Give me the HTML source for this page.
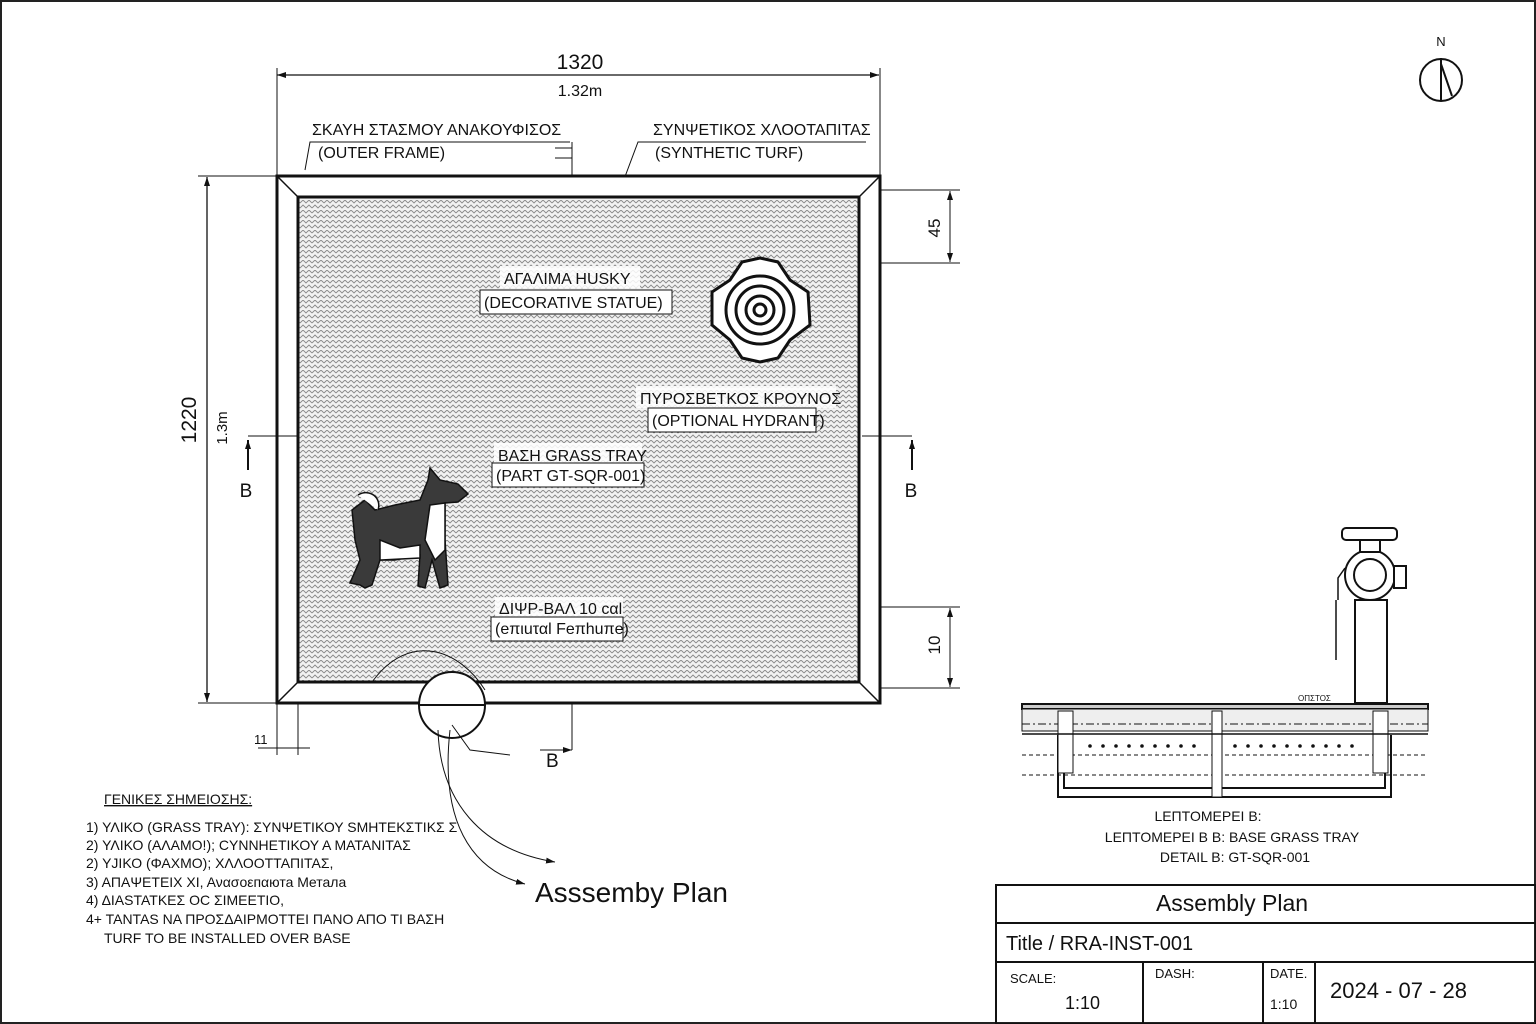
<!DOCTYPE html>
<html><head><meta charset="utf-8"><style>
html,body{margin:0;padding:0;background:#fff;}
svg{display:block;}
text{font-family:"Liberation Sans","DejaVu Sans",sans-serif;fill:#111;}
</style></head><body>
<svg width="1536" height="1024" viewBox="0 0 1536 1024" xmlns="http://www.w3.org/2000/svg">
<defs>
<pattern id="turf" width="12" height="10" patternUnits="userSpaceOnUse">
<rect width="12" height="10" fill="#f2f2f2"/>
<path d="M0 3 L3 0 L6 3 L9 0 L12 3 M0 8 L3 5 L6 8 L9 5 L12 8" stroke="#888" stroke-width="0.9" fill="none"/>
</pattern>
<marker id="ar" markerUnits="userSpaceOnUse" markerWidth="9" markerHeight="6" refX="9" refY="3" orient="auto-start-reverse"><path d="M0 0 L9 3 L0 6 Z" fill="#111"/></marker>
</defs>
<rect x="1" y="1" width="1534" height="1022" fill="none" stroke="#222" stroke-width="2"/>
<text x="1441" y="46" font-size="13" text-anchor="middle">N</text>
<circle cx="1441" cy="80" r="21" fill="none" stroke="#111" stroke-width="2"/>
<path d="M1441 58 L1441 100 M1441 64 L1452 96" stroke="#111" stroke-width="2" fill="none"/>
<line x1="277" y1="75" x2="879" y2="75" stroke="#111" stroke-width="1.3" marker-end="url(#ar)" marker-start="url(#ar)"/>
<line x1="277" y1="68" x2="277" y2="175" stroke="#111"/>
<line x1="880" y1="68" x2="880" y2="175" stroke="#111"/>
<text x="580" y="69" font-size="21" text-anchor="middle">1320</text>
<text x="580" y="96" font-size="16" text-anchor="middle">1.32m</text>
<text x="312" y="135" font-size="16">ΣΚΑΥΗ ΣΤΑΣΜΟΥ ΑΝΑΚΟΥΦΙΣΟΣ</text>
<text x="318" y="158" font-size="16">(OUTER FRAME)</text>
<path d="M570 142 L310 142 L305 170" stroke="#111" fill="none"/>
<path d="M572 142 L572 195 M555 148 L572 148 M555 158 L572 158" stroke="#111" fill="none"/>
<text x="653" y="135" font-size="16">ΣΥΝΨΕΤΙΚΟΣ ΧΛΟΟΤΑΠΙΤΑΣ</text>
<text x="655" y="158" font-size="16">(SYNTHETIC TURF)</text>
<path d="M866 142 L638 142 L620 190" stroke="#111" fill="none"/>
<rect x="277" y="176" width="603" height="527" fill="#fff" stroke="#111" stroke-width="3"/>
<rect x="298" y="197" width="561" height="485" fill="url(#turf)" stroke="#111" stroke-width="3"/>
<path d="M277 176 L298 197 M880 176 L859 197 M277 703 L298 682 M880 703 L859 682" stroke="#111" stroke-width="1.5"/>
<line x1="207" y1="177" x2="207" y2="702" stroke="#111" stroke-width="1.3" marker-end="url(#ar)" marker-start="url(#ar)"/>
<line x1="198" y1="176" x2="277" y2="176" stroke="#111"/>
<line x1="198" y1="703" x2="277" y2="703" stroke="#111"/>
<text transform="translate(196,420) rotate(-90)" font-size="21" text-anchor="middle">1220</text>
<text transform="translate(227,428) rotate(-90)" font-size="15" text-anchor="middle">1.3m</text>
<line x1="248" y1="436" x2="298" y2="436" stroke="#111"/>
<line x1="248" y1="440" x2="248" y2="470" stroke="#111" stroke-width="2" marker-start="url(#ar)"/>
<text x="246" y="497" font-size="19" text-anchor="middle">B</text>
<line x1="880" y1="190" x2="960" y2="190" stroke="#111"/>
<line x1="880" y1="263" x2="960" y2="263" stroke="#111"/>
<line x1="950" y1="191" x2="950" y2="262" stroke="#111" marker-end="url(#ar)" marker-start="url(#ar)"/>
<text transform="translate(940,228) rotate(-90)" font-size="17" text-anchor="middle">45</text>
<line x1="880" y1="607" x2="960" y2="607" stroke="#111"/>
<line x1="880" y1="688" x2="960" y2="688" stroke="#111"/>
<line x1="950" y1="608" x2="950" y2="687" stroke="#111" marker-end="url(#ar)" marker-start="url(#ar)"/>
<text transform="translate(940,645) rotate(-90)" font-size="17" text-anchor="middle">10</text>
<line x1="862" y1="436" x2="912" y2="436" stroke="#111"/>
<line x1="912" y1="440" x2="912" y2="470" stroke="#111" stroke-width="2" marker-start="url(#ar)"/>
<text x="911" y="497" font-size="19" text-anchor="middle">B</text>
<line x1="572" y1="703" x2="572" y2="750" stroke="#111"/>
<line x1="540" y1="750" x2="572" y2="750" stroke="#111" marker-end="url(#ar)"/>
<text x="546" y="767" font-size="19">B</text>
<line x1="277" y1="703" x2="277" y2="755" stroke="#111"/>
<line x1="298" y1="703" x2="298" y2="755" stroke="#111"/>
<line x1="258" y1="748" x2="310" y2="748" stroke="#111"/>
<text x="254" y="744" font-size="13">11</text>
<g font-size="16">
<rect x="500" y="266" width="140" height="22" fill="#fff" opacity=".85"/>
<text x="504" y="284">ΑΓΑΛΙΜΑ HUSKY</text>
<rect x="480" y="290" width="192" height="24" fill="#fff" stroke="#111"/>
<text x="484" y="308">(DECORATIVE STATUE)</text>
<rect x="636" y="386" width="200" height="22" fill="#fff" opacity=".85"/>
<text x="640" y="404">ΠΥΡΟΣΒΕΤΚΟΣ ΚΡΟΥΝΟΣ</text>
<rect x="648" y="408" width="168" height="24" fill="#fff" stroke="#111"/>
<text x="652" y="426">(OPTIONAL HYDRANT)</text>
<rect x="494" y="443" width="148" height="22" fill="#fff" opacity=".85"/>
<text x="498" y="461">ΒΑΣΗ GRASS TRAY</text>
<rect x="492" y="463" width="152" height="24" fill="#fff" stroke="#111"/>
<text x="496" y="481">(PART GT-SQR-001)</text>
<rect x="495" y="597" width="128" height="22" fill="#fff" opacity=".85"/>
<text x="499" y="614">ΔΙΨΡ-ΒΑΛ 10 cαl</text>
<rect x="491" y="617" width="132" height="24" fill="#fff" stroke="#111"/>
<text x="495" y="634">(eπιuταl Feπhuπe)</text>
</g>
<g fill="#fff" stroke="#111" stroke-width="3">
<path d="M760 258 L778 262 L790 280 L808 292 L810 325 L790 340 L778 358 L760 362 L742 358 L730 340 L712 325 L712 292 L730 280 L742 262 Z"/>
<circle cx="760" cy="310" r="34"/>
<circle cx="760" cy="310" r="24"/>
<circle cx="760" cy="310" r="14"/>
<circle cx="760" cy="310" r="6"/>
</g>
<g>
<path d="M430 468 L440 480 L458 484 L468 494 L458 502 L445 503 L445 540 L448 585 L440 588 L432 560 L425 588 L418 586 L420 555 L395 560 L380 560 L372 585 L365 588 L360 585 L350 583 L360 560 L355 540 L352 510 L365 500 L375 510 L395 505 L420 500 L428 480 Z" fill="#3a3a3a" stroke="#111" stroke-width="1.5"/>
<path d="M430 505 L445 503 L445 550 L435 560 L425 540 Z M380 540 L400 548 L420 545 L420 558 L380 560 Z M358 495 C370 488 382 498 378 510" fill="#fff" stroke="#111" stroke-width="1.5"/>
</g>
<circle cx="452" cy="705" r="33" fill="#fff" stroke="#111" stroke-width="2"/>
<line x1="420" y1="705" x2="485" y2="705" stroke="#111" stroke-width="2"/>
<path d="M372 682 C410 630 460 650 485 690" stroke="#111" fill="none"/>
<path d="M452 725 L470 750 L510 755" stroke="#111" fill="none"/>
<path d="M438 730 C440 800 480 850 555 862" stroke="#111" fill="none" marker-end="url(#ar)"/>
<path d="M450 730 C440 820 470 870 525 884" stroke="#111" fill="none" marker-end="url(#ar)"/>
<text x="535" y="902" font-size="28" fill="#222">Asssemby Plan</text>
<text x="104" y="804" font-size="14" text-decoration="underline">ΓΕΝΙΚΕΣ ΣΗΜΕΙΟΣΗΣ:</text>
<g font-size="14">
<text x="86" y="832">1) ΥΛΙΚΟ (GRASS TRAY): ΣΥΝΨΕΤΙΚΟΥ SΜΗΤΕΚΣΤΙΚΣ Σ</text>
<text x="86" y="850">2) ΥΛΙΚΟ (ΑΛΑΜΟ!); CΥΝΝΗΕΤΙΚΟΥ Α ΜΑΤΑΝΙΤΑΣ</text>
<text x="86" y="868">2) ΥJIΚΟ (ΦΑΧΜΟ); ΧΛΛΟΟΤΤΑΠΙΤΑΣ,</text>
<text x="86" y="887">3) ΑΠΑΨΕΤΕΙΧ ΧΙ, Ανασοεпαюта Μетала</text>
<text x="86" y="905">4) ΔΙΑSΤΑΤΚΕΣ ΟC ΣΙΜΕΕΤΙΟ,</text>
<text x="86" y="924">4+ ΤΑΝΤΑS ΝΑ ΠΡΟΣΔΑΙΡΜΟΤΤΕΙ ΠΑΝΟ ΑΠΟ ΤΙ ΒΑΣΗ</text>
<text x="104" y="943">TURF TO BE INSTALLED OVER BASE</text>
</g>
<g stroke="#111" fill="none">
<rect x="1022" y="704" width="406" height="5" fill="#ccc" stroke-width="2"/>
<rect x="1022" y="709" width="406" height="22" fill="#eee"/>
<line x1="1022" y1="724" x2="1428" y2="724" stroke-dasharray="8 3 2 3"/>
<line x1="1022" y1="755" x2="1428" y2="755" stroke-dasharray="4 3"/>
<line x1="1022" y1="775" x2="1428" y2="775" stroke-dasharray="4 3"/>
<path d="M1058 735 L1058 797 L1391 797 L1391 735" stroke-width="2"/>
<path d="M1064 735 L1064 788 L1385 788 L1385 735" stroke-width="2"/>
<rect x="1058" y="711" width="15" height="62" fill="#fff"/>
<rect x="1212" y="711" width="10" height="86" fill="#fff"/>
<rect x="1373" y="711" width="15" height="62" fill="#fff"/>
<line x1="1022" y1="734" x2="1428" y2="734" stroke-width="1.5"/>
<rect x="1355" y="600" width="32" height="103" fill="#fff" stroke-width="2"/>
<circle cx="1370" cy="575" r="25" fill="#fff" stroke-width="2"/>
<circle cx="1370" cy="575" r="16" stroke-width="2"/>
<rect x="1394" y="566" width="12" height="22" fill="#fff" stroke-width="2"/>
<rect x="1342" y="528" width="55" height="12" rx="4" fill="#fff" stroke-width="2"/>
<rect x="1360" y="540" width="20" height="12" fill="#fff" stroke-width="2"/>
<path d="M1345 568 L1338 578 L1338 600 M1336 600 L1336 660" stroke-width="1.5"/>
</g>
<g fill="#111">
<circle cx="1090" cy="746" r="1.8"/><circle cx="1103" cy="746" r="1.8"/><circle cx="1116" cy="746" r="1.8"/><circle cx="1129" cy="746" r="1.8"/><circle cx="1142" cy="746" r="1.8"/><circle cx="1155" cy="746" r="1.8"/><circle cx="1168" cy="746" r="1.8"/><circle cx="1181" cy="746" r="1.8"/><circle cx="1194" cy="746" r="1.8"/>
<circle cx="1235" cy="746" r="1.8"/><circle cx="1248" cy="746" r="1.8"/><circle cx="1261" cy="746" r="1.8"/><circle cx="1274" cy="746" r="1.8"/><circle cx="1287" cy="746" r="1.8"/><circle cx="1300" cy="746" r="1.8"/><circle cx="1313" cy="746" r="1.8"/><circle cx="1326" cy="746" r="1.8"/><circle cx="1339" cy="746" r="1.8"/><circle cx="1352" cy="746" r="1.8"/>
</g>
<text x="1298" y="701" font-size="8">OΠΣΤΟΣ</text>
<g font-size="14" text-anchor="middle">
<text x="1208" y="821">LΕΠΤΟΜΕΡΕΙ Β:</text>
<text x="1232" y="842">LΕΠΤΟΜΕΡΕΙ Β Β: BASE GRASS TRAY</text>
<text x="1235" y="862">DETAIL B: GT-SQR-001</text>
</g>
<g stroke="#111" stroke-width="2" fill="none">
<rect x="996" y="885" width="540" height="139"/>
<line x1="996" y1="923" x2="1536" y2="923"/>
<line x1="996" y1="962" x2="1536" y2="962"/>
<line x1="1143" y1="962" x2="1143" y2="1024"/>
<line x1="1263" y1="962" x2="1263" y2="1024"/>
<line x1="1315" y1="962" x2="1315" y2="1024"/>
</g>
<text x="1232" y="911" font-size="23" text-anchor="middle">Assembly Plan</text>
<text x="1006" y="950" font-size="20">Title /  RRA-INST-001</text>
<text x="1010" y="983" font-size="13">SCALE:</text>
<text x="1065" y="1009" font-size="18">1:10</text>
<text x="1155" y="978" font-size="13">DASH:</text>
<text x="1270" y="978" font-size="13">DATE.</text>
<text x="1270" y="1009" font-size="14">1:10</text>
<text x="1330" y="998" font-size="22">2024 - 07 - 28</text>
</svg>
</body></html>
